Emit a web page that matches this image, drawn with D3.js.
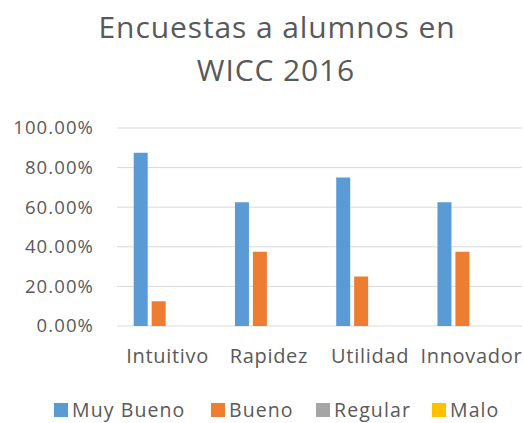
<!DOCTYPE html>
<html><head><meta charset="utf-8">
<script src="https://cdn.jsdelivr.net/npm/d3@7"></script>
<style>body{margin:0;background:#fff}svg{display:block}text{font-family:"Open Sans",sans-serif;fill:#595959}</style>
</head><body>
<script>
const categories = ["Intuitivo","Rapidez","Utilidad","Innovador"];
const seriesNames = ["Muy Bueno","Bueno","Regular","Malo"];
const muyBueno = [0.875,0.625,0.75,0.625];
const bueno = [0.125,0.375,0.25,0.375];
const regular = [0,0,0,0];
const malo = [0,0,0,0];
const yTicks = [0,0.2,0.4,0.6,0.8,1.0];
const colors = ["#5B9BD5","#ED7D31","#A5A5A5","#FFC000"];
const seriesValues = [muyBueno,bueno,regular,malo];

const W=523,H=423;
const svg=d3.select("body").append("svg").attr("width",W).attr("height",H);
const m={l:117,r:1,t:128,b:97};
const x=d3.scaleBand().domain(categories).range([m.l,W-m.r]).paddingInner(0.33).paddingOuter(0.165);
const x0=d3.scaleBand().domain(categories).range([m.l,W-m.r]);
const xs=d3.scaleBand().domain(seriesNames).range([0,x.bandwidth()]).paddingInner(0.22);
const y=d3.scaleLinear().domain([0,1]).range([H-m.b,m.t]);

svg.append("g").selectAll("line").data(yTicks).join("line")
 .attr("x1",m.l).attr("x2",W-m.r).attr("y1",d=>y(d)).attr("y2",d=>y(d))
 .attr("stroke","#D9D9D9").attr("stroke-width",1);
svg.append("g").selectAll("text").data(yTicks).join("text")
 .attr("x",94).attr("y",d=>y(d)).attr("dy","0.35em").attr("text-anchor","end")
 .attr("font-size",18.5).attr("letter-spacing",1.1).text(d=>d3.format(".2%")(d));

seriesNames.forEach((s,i)=>{
 svg.append("g").selectAll("rect").data(categories).join("rect")
  .attr("x",c=>x(c)+xs(s)).attr("width",xs.bandwidth())
  .attr("y",(c,j)=>y(seriesValues[i][j])).attr("height",(c,j)=>y(0)-y(seriesValues[i][j]))
  .attr("fill",colors[i]);
});

svg.append("g").selectAll("text").data(categories).join("text")
 .attr("x",c=>x0(c)+x0.bandwidth()/2).attr("y",363)
 .attr("text-anchor","middle").attr("font-size",20).attr("letter-spacing",0.7).text(c=>c);

const title=svg.append("text").attr("text-anchor","middle").attr("font-size",30).attr("letter-spacing",0.9);
title.append("tspan").attr("x",277).attr("y",38).text("Encuestas a alumnos en");
title.append("tspan").attr("x",276).attr("y",81).text("WICC 2016");

const legX=[54,211,316,432];
const lg=svg.append("g").selectAll("g").data(seriesNames).join("g").attr("transform",(d,i)=>`translate(${legX[i]},417)`);
lg.append("rect").attr("x",0).attr("y",-14).attr("width",14).attr("height",14).attr("fill",(d,i)=>colors[i]);
lg.append("text").attr("x",18).attr("font-size",19.5).attr("letter-spacing",1.1).text(d=>d);
</script>
</body></html>
